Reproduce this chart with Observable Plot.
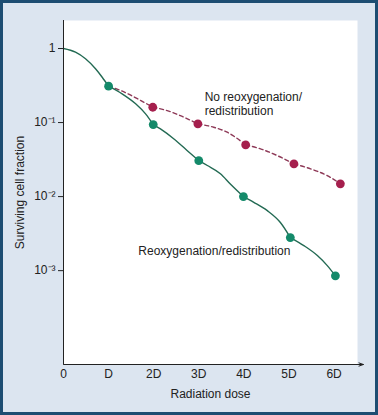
<!DOCTYPE html>
<html>
<head>
<meta charset="utf-8">
<script src="https://cdn.jsdelivr.net/npm/d3@7"></script>
<script src="https://cdn.jsdelivr.net/npm/@observablehq/plot@0.6"></script>
<style>
  html, body { margin: 0; padding: 0; background: #ffffff; }
  #wrap {
    position: relative; width: 378px; height: 415px; box-sizing: border-box;
    background: #dce5f0;
    box-shadow: inset 0 0 0 3px #1d4d72;
    overflow: hidden;
  }
  #wrap svg { position: absolute; left: 0; top: 0; background: transparent; }
</style>
</head>
<body>
<div id="wrap"></div>
<script>
// Tick values and labels
const doseTicks = [0, 1, 2, 3, 4, 5, 6];
const doseTickLabels = ["0", "D", "2D", "3D", "4D", "5D", "6D"];
const survTicks = [1, 0.1, 0.01, 0.001];
const survTickLabels = ["1", "10\u207B\u00B9", "10\u207B\u00B2", "10\u207B\u00B3"];

// Axis extents (dose units, surviving fraction)
const doseDomain = [0, 6.52];
const doseArrowEnd = 6.65;
const survDomain = [5.4e-5, 2.39];

// Reoxygenation/redistribution: dots at each fraction
const greenDotDose = [1.0, 1.99, 3.0, 3.99, 5.03, 6.03];
const greenDotSurv = [0.31, 0.094, 0.0306, 0.010, 0.0028, 0.00085];

// Reoxygenation/redistribution: curve, per fraction segment
const greenCurveDose = [
  0, 0.266, 0.488, 0.71, 0.858, 1.0,
  1.0, 1.30, 1.60, 1.82, 1.99,
  1.99, 2.15, 2.45, 2.74, 3.0,
  3.0, 3.19, 3.48, 3.70, 3.99,
  3.99, 4.22, 4.52, 4.81, 5.03,
  5.03, 5.33, 5.63, 5.85, 6.03
];
const greenCurveSurv = [
  1, 0.891, 0.726, 0.532, 0.409, 0.31,
  0.31, 0.244, 0.179, 0.131, 0.094,
  0.094, 0.082, 0.060, 0.042, 0.0306,
  0.0306, 0.0263, 0.0204, 0.0148, 0.010,
  0.010, 0.00838, 0.00646, 0.00447, 0.0028,
  0.0028, 0.00218, 0.00160, 0.00117, 0.00085
];
const greenCurveSeg = [
  1, 1, 1, 1, 1, 1,
  2, 2, 2, 2, 2,
  3, 3, 3, 3, 3,
  4, 4, 4, 4, 4,
  5, 5, 5, 5, 5,
  6, 6, 6, 6, 6
];

// No reoxygenation/redistribution
const maroonDotDose = [1.98, 2.98, 4.04, 5.11, 6.14];
const maroonDotSurv = [0.161, 0.096, 0.050, 0.0277, 0.0149];
const maroonCurveDose = [
  1.0, 1.23, 1.67, 1.98,
  1.98, 2.30, 2.59, 2.98,
  2.98, 3.33, 3.63, 4.04,
  4.04, 4.37, 4.74, 5.11,
  5.11, 5.48, 5.85, 6.14
];
const maroonCurveSurv = [
  0.31, 0.277, 0.205, 0.161,
  0.161, 0.145, 0.124, 0.096,
  0.096, 0.0864, 0.074, 0.050,
  0.050, 0.0441, 0.0358, 0.0277,
  0.0277, 0.0237, 0.0192, 0.0149
];
const maroonCurveSeg = [
  1, 1, 1, 1,
  2, 2, 2, 2,
  3, 3, 3, 3,
  4, 4, 4, 4,
  5, 5, 5, 5
];

// Annotations
const annotationText = ["No reoxygenation/\nredistribution", "Reoxygenation/redistribution"];
const annotationDose = [3.13, 1.66];
const annotationSurv = [0.263, 0.00218];

const xTitle = "Radiation dose";
const yTitle = "Surviving cell fraction";

const greenCurve = greenCurveDose.map((d, i) => ({dose: d, surv: greenCurveSurv[i], seg: greenCurveSeg[i]}));
const maroonCurve = maroonCurveDose.map((d, i) => ({dose: d, surv: maroonCurveSurv[i], seg: maroonCurveSeg[i]}));
const greenDots = greenDotDose.map((d, i) => ({dose: d, surv: greenDotSurv[i]}));
const maroonDots = maroonDotDose.map((d, i) => ({dose: d, surv: maroonDotSurv[i]}));
const annotations = annotationText.map((t, i) => ({text: t, dose: annotationDose[i], surv: annotationSurv[i]}));

const ink = "#222222";
const green = "#148a6a";
const greenLine = "#236a53";
const maroon = "#a51f4d";
const maroonLine = "#8e3a58";

const chart = Plot.plot({
  width: 378,
  height: 415,
  marginLeft: 63,
  marginRight: 21,
  marginTop: 20,
  marginBottom: 51,
  style: {fontFamily: "'Liberation Sans', Arial, sans-serif", fontSize: "12px", color: ink, background: "transparent", overflow: "visible"},
  x: {domain: doseDomain, ticks: doseTicks, tickFormat: d => doseTickLabels[doseTicks.indexOf(d)], tickSize: -3, tickPadding: 8, label: null},
  y: {type: "log", domain: survDomain, ticks: survTicks, tickFormat: d => survTickLabels[survTicks.indexOf(d)], tickSize: 5, tickPadding: 3, label: null},
  marks: [
    Plot.frame({fill: "white", stroke: null}),
    Plot.line(maroonCurve, {x: "dose", y: "surv", z: "seg", curve: "monotone-x", stroke: maroonLine, strokeWidth: 1.4, strokeDasharray: "4,3"}),
    Plot.line(greenCurve, {x: "dose", y: "surv", z: "seg", curve: "monotone-x", stroke: greenLine, strokeWidth: 1.4}),
    Plot.dot(maroonDots, {x: "dose", y: "surv", r: 4.4, fill: maroon}),
    Plot.dot(greenDots, {x: "dose", y: "surv", r: 4.4, fill: green}),
    Plot.text(annotations, {x: "dose", y: "surv", text: "text", textAnchor: "start", lineAnchor: "top", lineHeight: 1.15, fill: ink, fontSize: 12}),
    Plot.ruleX([doseDomain[0]], {stroke: ink, strokeWidth: 1}),
    Plot.arrow([0], {x1: () => doseDomain[0], x2: () => doseArrowEnd, y1: () => survDomain[0], y2: () => survDomain[0], stroke: ink, strokeWidth: 1, headLength: 7, headAngle: 40}),
    Plot.text([yTitle], {frameAnchor: "left", dx: -43, rotate: -90, textAnchor: "middle", lineAnchor: "middle", fill: ink, fontSize: 12}),
    Plot.text([xTitle], {frameAnchor: "bottom", dy: 30, textAnchor: "middle", lineAnchor: "middle", fill: ink, fontSize: 12})
  ]
});
document.getElementById("wrap").appendChild(chart);
</script>
</body>
</html>
